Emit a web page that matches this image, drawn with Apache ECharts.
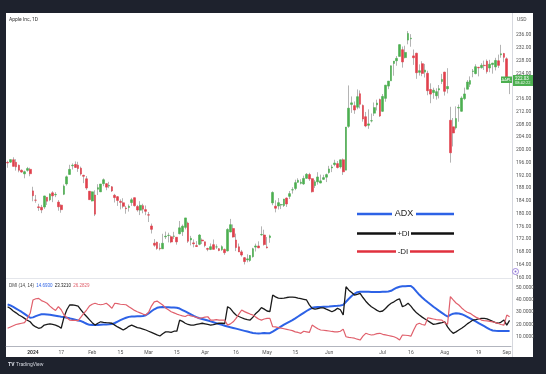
<!DOCTYPE html>
<html><head><meta charset="utf-8">
<script src="https://cdn.jsdelivr.net/npm/echarts@6/dist/echarts.min.js"></script>
<style>html,body{margin:0;padding:0;background:#1e222d;}#c{width:546px;height:374px;}</style>
</head><body><div id="c"></div><script>
const dates = [
"2023-12-18","2023-12-19","2023-12-20","2023-12-21","2023-12-22","2023-12-26","2023-12-27","2023-12-28","2023-12-29",
"2024-01-02","2024-01-03","2024-01-04","2024-01-05","2024-01-08","2024-01-09","2024-01-10","2024-01-11","2024-01-12","2024-01-16","2024-01-17","2024-01-18","2024-01-19","2024-01-22","2024-01-23","2024-01-24","2024-01-25","2024-01-26","2024-01-29","2024-01-30","2024-01-31",
"2024-02-01","2024-02-02","2024-02-05","2024-02-06","2024-02-07","2024-02-08","2024-02-09","2024-02-12","2024-02-13","2024-02-14","2024-02-15","2024-02-16","2024-02-20","2024-02-21","2024-02-22","2024-02-23","2024-02-26","2024-02-27","2024-02-28","2024-02-29",
"2024-03-01","2024-03-04","2024-03-05","2024-03-06","2024-03-07","2024-03-08","2024-03-11","2024-03-12","2024-03-13","2024-03-14","2024-03-15","2024-03-18","2024-03-19","2024-03-20","2024-03-21","2024-03-22","2024-03-25","2024-03-26","2024-03-27","2024-03-28",
"2024-04-01","2024-04-02","2024-04-03","2024-04-04","2024-04-05","2024-04-08","2024-04-09","2024-04-10","2024-04-11","2024-04-12","2024-04-15","2024-04-16","2024-04-17","2024-04-18","2024-04-19","2024-04-22","2024-04-23","2024-04-24","2024-04-25","2024-04-26","2024-04-29","2024-04-30",
"2024-05-01","2024-05-02","2024-05-03","2024-05-06","2024-05-07","2024-05-08","2024-05-09","2024-05-10","2024-05-13","2024-05-14","2024-05-15","2024-05-16","2024-05-17","2024-05-20","2024-05-21","2024-05-22","2024-05-23","2024-05-24","2024-05-28","2024-05-29","2024-05-30","2024-05-31",
"2024-06-03","2024-06-04","2024-06-05","2024-06-06","2024-06-07","2024-06-10","2024-06-11","2024-06-12","2024-06-13","2024-06-14","2024-06-17","2024-06-18","2024-06-20","2024-06-21","2024-06-24","2024-06-25","2024-06-26","2024-06-27","2024-06-28",
"2024-07-01","2024-07-02","2024-07-03","2024-07-05","2024-07-08","2024-07-09","2024-07-10","2024-07-11","2024-07-12","2024-07-15","2024-07-16","2024-07-17","2024-07-18","2024-07-19","2024-07-22","2024-07-23","2024-07-24","2024-07-25","2024-07-26","2024-07-29","2024-07-30","2024-07-31",
"2024-08-01","2024-08-02","2024-08-05","2024-08-06","2024-08-07","2024-08-08","2024-08-09","2024-08-12","2024-08-13","2024-08-14","2024-08-15","2024-08-16","2024-08-19","2024-08-20","2024-08-21","2024-08-22","2024-08-23","2024-08-26","2024-08-27","2024-08-28","2024-08-29","2024-08-30",
"2024-09-03","2024-09-04"];

const opens = [
196.09,196.16,196.90,196.10,195.18,193.61,192.49,194.14,193.90,
187.15,184.22,182.15,181.99,182.09,183.92,184.35,186.54,186.06,182.16,181.27,186.09,189.33,192.30,195.02,195.42,195.22,194.27,192.01,190.94,187.04,
183.99,179.86,188.15,186.86,190.64,189.39,188.65,188.42,185.77,185.32,183.55,183.42,181.79,181.94,183.48,185.01,182.24,181.10,182.51,181.27,
179.55,176.15,170.76,171.06,169.15,169.00,172.94,173.15,172.77,172.91,171.17,175.57,174.34,175.72,177.05,171.76,170.57,170.00,170.41,171.75,
171.19,169.08,168.79,170.29,169.59,169.03,168.70,168.80,168.34,174.26,175.36,171.75,169.61,168.03,166.21,165.52,165.35,166.54,169.53,169.88,173.37,173.33,
169.58,172.51,186.65,182.35,183.45,182.85,182.56,184.90,185.44,187.51,187.91,190.47,189.51,189.33,191.09,192.27,190.98,188.82,191.51,189.61,190.76,191.44,
192.90,194.64,195.40,195.69,194.65,196.90,193.65,207.37,214.74,213.85,213.37,217.59,213.93,210.39,207.72,209.15,211.50,214.69,215.77,
212.09,216.15,220.00,221.65,227.09,227.93,229.30,231.39,228.92,236.48,235.00,229.45,230.28,224.82,227.01,224.37,224.00,218.93,218.70,216.96,219.19,221.44,
224.37,219.15,199.09,205.30,206.90,213.11,212.10,216.07,219.01,220.57,224.60,223.92,225.72,225.77,226.52,227.79,225.66,226.76,226.00,227.92,230.10,230.19,
228.55,221.66];

const highs = [
196.63,196.95,197.68,197.08,195.41,193.89,193.50,194.66,194.40,
188.44,185.88,183.09,182.76,185.60,185.15,186.40,187.05,186.74,184.26,182.93,189.14,191.95,195.33,195.75,196.38,196.27,194.76,192.20,191.80,187.10,
186.95,187.33,189.25,189.31,191.05,189.54,189.99,188.67,186.21,185.53,184.49,184.85,182.43,182.89,184.96,185.04,182.76,183.92,183.12,182.57,
180.53,176.90,172.04,171.24,170.73,173.70,174.38,174.03,173.19,174.31,172.62,177.71,176.61,178.67,177.49,173.05,171.94,171.42,173.60,172.23,
171.25,169.34,170.68,171.92,170.39,169.20,170.08,169.09,175.46,178.36,176.63,173.76,170.65,168.64,166.40,167.26,167.05,169.30,170.61,171.34,176.03,174.99,
172.71,173.42,187.00,184.20,184.90,183.07,184.66,185.09,187.10,188.30,190.65,191.10,190.81,191.92,192.73,192.82,191.00,190.58,193.00,192.25,192.18,192.57,
194.99,195.32,196.90,196.50,196.94,197.30,207.16,220.20,216.75,215.17,218.95,218.63,214.24,211.89,212.70,211.38,214.86,215.74,216.07,
217.51,220.38,221.55,226.45,227.85,229.40,233.08,232.39,232.64,237.23,236.27,231.46,230.44,226.80,227.78,226.94,224.80,220.85,219.49,219.30,220.33,223.82,
224.48,225.60,213.50,209.99,213.64,214.20,216.78,219.51,221.89,223.03,225.35,226.83,225.99,227.17,227.98,228.34,228.22,227.28,228.85,229.86,232.92,230.40,
229.00,222.50];

const lows = [
194.39,195.89,194.83,193.50,192.97,192.83,191.09,193.17,191.73,
183.89,183.43,180.88,180.17,181.50,182.73,183.92,183.62,185.19,180.93,180.30,185.83,188.82,192.26,193.83,194.34,193.11,191.94,189.58,187.47,184.35,
183.82,179.25,185.84,186.77,188.61,187.35,188.00,186.79,183.51,182.44,181.35,181.67,180.00,180.66,182.46,182.23,180.65,179.56,180.13,179.53,
177.38,173.79,169.62,168.68,168.49,168.94,172.05,171.01,170.76,172.05,170.29,173.52,173.03,175.09,170.84,170.06,169.45,169.58,170.11,170.51,
169.48,168.23,168.58,168.82,168.95,168.24,168.35,167.11,168.16,174.21,172.50,168.27,168.00,166.55,164.08,164.77,164.92,166.21,168.15,169.18,173.10,170.00,
169.11,170.89,182.66,180.42,181.32,181.45,182.11,182.13,184.62,186.29,187.37,189.66,189.18,189.01,190.92,190.27,186.63,188.04,189.10,189.51,190.63,189.91,
192.52,193.03,194.87,194.17,194.14,192.15,193.63,206.90,211.60,211.30,212.72,213.00,208.85,207.11,206.59,208.61,210.64,212.35,210.30,
211.92,215.10,219.03,221.65,223.25,226.37,229.25,225.77,228.68,233.09,232.33,226.64,222.27,223.28,223.09,222.68,217.13,214.62,216.01,215.75,216.12,220.63,
217.02,217.71,196.00,201.07,206.39,208.83,211.97,215.60,219.01,219.70,222.76,223.65,223.04,225.45,225.05,223.90,224.33,223.89,224.89,225.68,228.88,227.48,
221.17,217.48];

const closes = [
195.89,196.94,194.83,194.68,193.60,193.05,193.15,193.58,192.53,
185.64,184.25,181.91,181.18,185.56,185.14,186.19,185.59,185.92,183.63,182.68,188.63,191.56,193.89,195.18,194.50,194.17,192.42,191.73,188.04,184.40,
186.86,185.85,187.68,189.30,189.41,188.32,188.85,187.15,185.04,184.15,183.86,182.31,181.56,182.32,184.37,182.52,181.16,182.63,181.42,180.75,
179.66,175.10,170.12,169.12,169.00,170.73,172.75,173.23,171.13,173.00,172.62,173.72,176.08,178.67,171.37,172.28,170.85,169.71,173.31,171.48,
170.03,168.84,169.65,168.82,169.58,168.45,169.67,167.78,175.04,176.55,172.69,169.38,168.00,167.04,165.00,165.84,166.90,169.02,169.89,169.30,173.50,170.33,
169.30,173.03,183.38,181.71,182.40,182.74,184.57,183.05,186.28,187.43,189.72,189.84,189.87,191.04,192.35,190.90,186.88,189.98,189.99,190.29,191.29,192.25,
194.03,194.35,195.87,194.48,196.89,193.12,207.15,213.07,214.24,212.49,216.67,214.29,209.68,207.49,208.14,209.07,213.25,214.10,210.62,
216.75,220.27,221.55,226.34,227.82,228.68,232.98,227.57,230.54,234.40,234.82,228.88,224.18,224.31,223.96,225.01,218.54,217.49,217.96,218.24,218.80,222.08,
218.36,219.86,209.27,207.23,209.82,213.31,216.24,217.53,221.27,221.72,224.72,226.05,225.89,226.51,226.40,224.53,226.84,227.18,228.03,226.49,229.79,229.00,
222.77,222.03];
const prevClose0 = 197.57;

const adx = [
36.4,35.5,34.3,33,31.6,30.2,28.6,27,25.5,
25.8,26.8,27.6,28.3,28.4,28.2,28,27.6,27.2,26.8,26.3,
26,25.5,25,24.4,23.8,23.2,22.8,21.8,20.6,19.7,
19.5,19.5,19.6,19.8,19.9,20,20.1,20.3,21.2,22.4,
23.5,24.6,25.5,26.2,26.5,26.6,26.7,26.8,27,27.5,
29,30.8,32.4,33.6,34.1,34.2,34.1,34,33.9,33.8,
33.6,33,31.8,30.6,29.4,28.2,27,26,25.1,24.5,
23.9,23.2,22.5,21.8,21.1,20.4,19.7,19,18.3,17.7,
17.2,16.6,16,15.4,14.8,14.2,13.6,13.1,12.8,12.7,
12.8,13,12.9,12.9,14.2,15.6,17,18.4,19.8,21.1,
22.3,23.6,25,26.5,28,29.5,31,32.4,33.6,34,
34.2,34.3,34.4,34.5,34.6,34.8,35,35.2,35.5,36,
38.5,41,43.2,45,46.3,46.7,46.8,46.7,46.6,46.5,
46.4,46.4,46.5,46.6,46.7,46.9,47.5,48.8,50,50.8,
51.1,51.2,51.3,51.4,49.5,46.8,44.2,42,40,38.1,
36.3,34.5,32.8,31.1,29.5,27.9,26.5,27.8,28.8,29.1,
29,28.4,27.4,26.2,25,23.8,22.5,21.2,19.9,18.6,
17.3,16,15.1,14.8,14.7,14.7,14.6,14.7,14.693];

const plusDI = [
34.5,33,31,29.5,27.7,26.5,25,23.5,22.2,
19.5,18,16.9,17.5,19.5,20,20.5,20,19.5,18.5,16.9,
26,32,35.9,36,35.5,35,32,29,26.5,24,
21.5,19.5,21,22.2,21.8,21.5,21.3,21,19.5,18,
16.8,15.5,16.8,18.5,19.5,18.5,17.5,17,16.3,15.5,
14.5,13.5,12.5,11.5,10.6,12.5,14,14,13.5,14.5,
14.5,23.6,22.5,21,20,19.5,19.5,20,20.5,21,
20.5,20,19.5,19.8,20.5,21,21,20.8,34.5,33,
30,27.7,26.5,25.5,24.5,24,23.6,26,29,31,
33.7,32.5,31,30.4,44,42.5,41.5,41.3,41.5,42,
42.3,42.3,42.1,41.5,41,40.5,40,36,33.2,32.5,
33,33.5,33.6,32.5,31.5,30.4,31.5,33.2,32,27.7,
50.8,48,46,44,44.5,45.4,42,39,36.5,34.5,
33,31.5,30.4,31,33,35.5,37.3,38.5,40,40.8,
34.5,35.5,37.3,35,32,29.5,27.7,26,24.5,23,
21.5,20.1,20.5,21,21.5,22.2,18,15,12.8,14,
15.5,16.9,18.5,20.5,22,23.6,24,24.5,25,25,
24.5,23.5,22.5,21.5,21,22,23.6,19.5,23.321];

const minusDI = [
16.9,18,19,20,20.5,21,21.5,25,29.1,
40,41,41.3,39.5,38.5,37.3,35,33,31.5,34.5,32,
27.7,25.5,23.6,23.4,23.3,23.2,26,29,31.8,35,
36.5,37.3,36.5,36.1,36.5,37.3,35.5,33.2,37.3,37,
36.5,36.3,36.1,34.5,33,31.5,30.4,29.5,28.5,27.7,
30,35,38.5,39.1,37.5,35.9,33.5,32,30.4,29.5,
28.5,27.7,27,26.5,27.7,27,26.5,25.8,25,25.5,
26,26.3,23.6,23.6,24,23.6,23.6,23.5,19.5,20.5,
22.2,25,28.5,31.8,30.5,29.5,28.5,27.7,26,24.5,
23.6,24.5,25,25,18.2,18,17.5,17,16.5,16,
15.5,15,14,13.5,12.8,14.5,14,13.5,19.5,18,
16.5,15.5,15.3,15,14.7,14.3,14,14,14.5,16.2,
10,9.5,9.2,8.8,8,7.3,10.5,12.8,12,11.4,
11.8,12.5,12.8,12,11.5,11,10.5,10,9,7.3,
11.4,11.2,11,10.5,15.5,20,21,20,19.5,25.5,
25,24.5,24,23.8,23.6,21.5,20.1,42.7,40,37.5,
35.9,33.5,31.5,30,29.1,27.5,26,25,23.6,23.2,
23,22.6,22.2,21.5,20.8,20,19.5,27.7,26.283];

const tickDates = ["2024-01-02","2024-01-17","2024-02-01","2024-02-15","2024-03-01","2024-03-15","2024-04-01","2024-04-16","2024-05-01","2024-05-15","2024-06-03","2024-07-01","2024-07-16","2024-08-01","2024-08-19","2024-09-03"];
const tickTexts = ["2024","17","Feb","15","Mar","15","Apr","16","May","15","Jun","Jul","16","Aug","19","Sep"];

const UP = '#4caf50', DOWN = '#e0404c', WICK = '#b4b4b4';
const tickMap = {};
tickDates.forEach((d, i) => tickMap[d] = tickTexts[i]);

const wickData = dates.map((d, i) => [opens[i], closes[i], lows[i], highs[i]]);
const bodyData = dates.map((d, i) => {
  const pc = i === 0 ? prevClose0 : closes[i - 1];
  const col = closes[i] >= pc ? UP : DOWN;
  const lo = Math.min(opens[i], closes[i]), hi = Math.max(opens[i], closes[i]);
  return { value: [opens[i], closes[i], lo, hi], itemStyle: { color: col, color0: col, borderColor: col, borderColor0: col } };
});

const chart = echarts.init(document.getElementById('c'), null, { renderer: 'canvas' });
const FONT = 'Roboto, "Noto Sans", sans-serif';
const LFONT = '"Liberation Sans", Arial, sans-serif';
chart.setOption({
  animation: false,
  backgroundColor: '#1e222d',
  grid: [
    { left: 6.2, right: 35, top: 13, height: 264.5, outerBoundsMode: 'none' },
    { left: 6.2, right: 35, top: 279, height: 70, outerBoundsMode: 'none' }
  ],
  xAxis: [
    { type: 'category', gridIndex: 0, data: dates, boundaryGap: true, axisLine: { show: false }, axisTick: { show: false }, axisLabel: { show: false }, splitLine: { show: false } },
    { type: 'category', gridIndex: 1, data: dates, boundaryGap: true, offset: -3,
      axisLine: { show: true, lineStyle: { color: '#b2b5be', width: 1 } }, axisTick: { show: false },
      axisLabel: { show: true, interval: (idx, val) => tickMap[val] !== undefined, formatter: (val) => val === '2024-01-02' ? '{b|2024}' : (tickMap[val] || ''),
        fontSize: 5, color: '#555', margin: 4, fontFamily: FONT, rich: { b: { fontSize: 5, fontWeight: 'bold', color: '#333', fontFamily: FONT } } },
      splitLine: { show: false } }
  ],
  yAxis: [
    { type: 'value', gridIndex: 0, position: 'right', min: 160, max: 242.9, interval: 4, scale: true,
      axisLine: { show: false }, axisTick: { show: false }, splitLine: { show: false },
      axisLabel: { showMaxLabel: false, fontSize: 5, color: '#555', margin: 5, fontFamily: FONT, formatter: v => (v > 238 || v === 220) ? '' : v.toFixed(2) } },
    { type: 'value', gridIndex: 1, position: 'right', min: 0, max: 57.1, interval: 10,
      axisLine: { show: false }, axisTick: { show: false }, splitLine: { show: false },
      axisLabel: { showMaxLabel: false, fontSize: 5, color: '#555', margin: 5, fontFamily: FONT, formatter: v => (v === 0 || v > 50) ? '' : v.toFixed(4) } }
  ],
  series: [
    { type: 'candlestick', xAxisIndex: 0, yAxisIndex: 0, data: wickData, barWidth: 1,
      itemStyle: { color: WICK, color0: WICK, borderColor: WICK, borderColor0: WICK, borderWidth: 1 } },
    { type: 'candlestick', xAxisIndex: 0, yAxisIndex: 0, data: bodyData, barWidth: 2.2, itemStyle: { borderWidth: 0.6 } },
    { type: 'line', xAxisIndex: 1, yAxisIndex: 1, data: adx, showSymbol: false, lineStyle: { color: '#2d62e6', width: 2 } },
    { type: 'line', xAxisIndex: 1, yAxisIndex: 1, data: plusDI, showSymbol: false, lineStyle: { color: '#1a1a1a', width: 1.3 } },
    { type: 'line', xAxisIndex: 1, yAxisIndex: 1, data: minusDI, showSymbol: false, lineStyle: { color: '#e0606c', width: 1.2 } }
  ],
  graphic: [
    { type: 'rect', z: -10, silent: true, shape: { x: 6, y: 13, width: 527, height: 344 }, style: { fill: '#ffffff' } },
    { type: 'line', z: 5, shape: { x1: 512.5, y1: 13, x2: 512.5, y2: 357 }, style: { stroke: '#d6d8de', lineWidth: 1 } },
    { type: 'line', z: 5, shape: { x1: 6, y1: 278.5, x2: 512, y2: 278.5 }, style: { stroke: '#e4e6eb', lineWidth: 1 } },
    { type: 'text', z: 10, style: { x: 9, y: 17.5, text: 'Apple Inc, 1D', fontSize: 5, fill: '#333', fontFamily: FONT } },
    { type: 'text', z: 10, style: { x: 517, y: 17.5, text: 'USD', fontSize: 5, fill: '#555', fontFamily: FONT } },
    { type: 'text', z: 10, style: { x: 9, y: 283, text: '{a|DMI (14, 14)}  {b|14.6930}  {c|23.3210}  {d|26.2829}', fontSize: 4.5, fontFamily: FONT,
      rich: { a: { fill: '#444', fontSize: 4.5 }, b: { fill: '#2d62e6', fontSize: 4.5 }, c: { fill: '#222', fontSize: 4.5 }, d: { fill: '#e0606c', fontSize: 4.5 } } } },
    // legend
    { type: 'line', z: 10, shape: { x1: 357, y1: 214, x2: 392, y2: 214 }, style: { stroke: '#2d62e6', lineWidth: 2.6 } },
    { type: 'text', z: 10, style: { x: 404, y: 214, text: 'ADX', fontSize: 9, fill: '#222', align: 'center', verticalAlign: 'middle', fontFamily: LFONT } },
    { type: 'line', z: 10, shape: { x1: 416, y1: 214, x2: 454, y2: 214 }, style: { stroke: '#2d62e6', lineWidth: 2.6 } },
    { type: 'line', z: 10, shape: { x1: 357, y1: 233.5, x2: 396, y2: 233.5 }, style: { stroke: '#111', lineWidth: 2.6 } },
    { type: 'text', z: 10, style: { x: 403.5, y: 233.5, text: '+DI', fontSize: 8, fill: '#222', align: 'center', verticalAlign: 'middle', fontFamily: LFONT } },
    { type: 'line', z: 10, shape: { x1: 411, y1: 233.5, x2: 454, y2: 233.5 }, style: { stroke: '#111', lineWidth: 2.6 } },
    { type: 'line', z: 10, shape: { x1: 357, y1: 251.5, x2: 396, y2: 251.5 }, style: { stroke: '#e0303e', lineWidth: 2.6 } },
    { type: 'text', z: 10, style: { x: 403, y: 251.5, text: '-DI', fontSize: 8, fill: '#222', align: 'center', verticalAlign: 'middle', fontFamily: LFONT } },
    { type: 'line', z: 10, shape: { x1: 410, y1: 251.5, x2: 454, y2: 251.5 }, style: { stroke: '#e0303e', lineWidth: 2.6 } },
    // price tag
    { type: 'rect', z: 10, shape: { x: 513, y: 75, width: 20, height: 11 }, style: { fill: '#4caf50' } },
    { type: 'text', z: 11, style: { x: 515, y: 76, text: '222.03', fontSize: 4.5, fill: '#fff', fontFamily: FONT } },
    { type: 'text', z: 11, style: { x: 515, y: 81, text: '08:42:22', fontSize: 4, fill: '#e8f5e9', fontFamily: FONT } },
    { type: 'rect', z: 10, shape: { x: 501, y: 76.5, width: 11, height: 6.5 }, style: { fill: '#4caf50' } },
    { type: 'text', z: 11, style: { x: 506.5, y: 79.8, text: 'AAPL', fontSize: 4, fill: '#fff', align: 'center', verticalAlign: 'middle', fontFamily: FONT } },
    { type: 'circle', z: 10, shape: { cx: 515.5, cy: 271.5, r: 3 }, style: { fill: '#fff', stroke: '#8a6fd6', lineWidth: 0.8 } },
    { type: 'circle', z: 11, shape: { cx: 515.5, cy: 271.5, r: 1 }, style: { fill: '#8a6fd6' } },
    // footer
    { type: 'text', z: 10, style: { x: 8, y: 362.5, text: 'TV', fontSize: 5, fontWeight: 'bold', fill: '#e0e3eb', fontFamily: FONT } },
    { type: 'text', z: 10, style: { x: 16, y: 362.5, text: 'TradingView', fontSize: 5, fill: '#d1d4dc', fontFamily: FONT } }
  ]
});
</script></body></html>
